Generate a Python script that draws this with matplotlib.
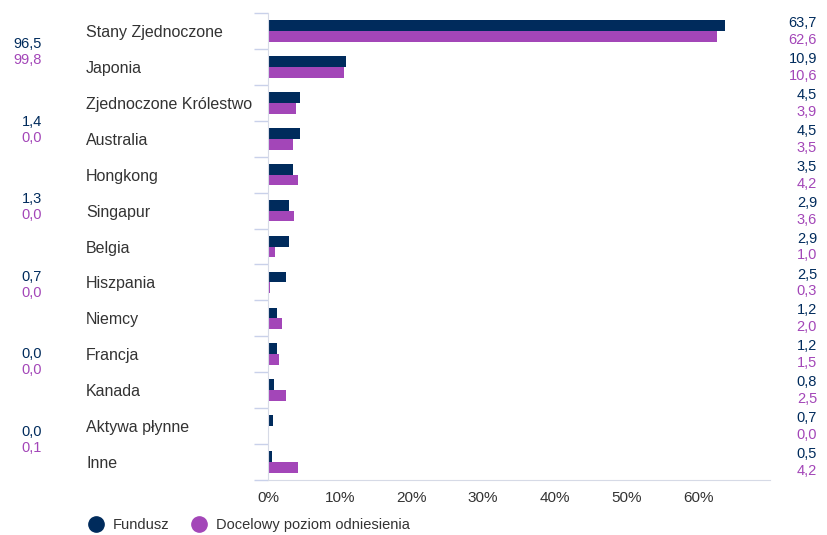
import matplotlib.pyplot as plt
import matplotlib.transforms as mtransforms
from matplotlib.lines import Line2D
import numpy as np

plt.rcParams['font.family'] = ['Liberation Sans', 'DejaVu Sans']

# data
countries = ["Stany Zjednoczone", "Japonia", "Zjednoczone Królestwo", "Australia",
             "Hongkong", "Singapur", "Belgia", "Hiszpania", "Niemcy", "Francja",
             "Kanada", "Aktywa płynne", "Inne"]
fundusz = [63.7, 10.9, 4.5, 4.5, 3.5, 2.9, 2.9, 2.5, 1.2, 1.2, 0.8, 0.7, 0.5]
docelowy = [62.6, 10.6, 3.9, 3.5, 4.2, 3.6, 1.0, 0.3, 2.0, 1.5, 2.5, 0.0, 4.2]
# extra numbers on the left edge
left_fund = [96.5, 1.4, 1.3, 0.7, 0.0, 0.0]
left_bench = [99.8, 0.0, 0.0, 0.0, 0.0, 0.1]
xticks = [0, 10, 20, 30, 40, 50, 60]

navy = "#002B5C"
purple = "#A346B8"
txt = "#333333"
axcol = "#D6DAE6"


def fmt(v):
    return f"{v:.1f}".replace(".", ",")


W, H = 827, 535
fig = plt.figure(figsize=(W / 100, H / 100), dpi=100)
ax = fig.add_axes([268 / W, 1 - 480 / H, (770 - 268) / W, (480 - 13) / H])

y = np.arange(len(countries))
bh = 0.3
ax.barh(y - bh / 2, fundusz, height=bh, color=navy)
ax.barh(y + bh / 2, docelowy, height=bh, color=purple)

ax.set_xlim(0, 70)
ax.set_ylim(len(countries) - 0.5, -0.5)
ax.set_xticks(xticks)
ax.set_xticklabels([f"{t}%" for t in xticks], fontsize=11, color=txt)
ax.tick_params(axis='x', length=0, pad=8)

ax.set_yticks(y)
ax.set_yticklabels(countries, fontsize=11.5, color=txt, ha='left')
ax.tick_params(axis='y', which='major', length=0, pad=131)
ax.set_yticks(np.arange(-0.5, len(countries), 1), minor=True)
ax.tick_params(axis='y', which='minor', length=10, color="#C9D1EA", width=1)

for s in ["top", "right"]:
    ax.spines[s].set_visible(False)
ax.spines["left"].set_color(axcol)
ax.spines["bottom"].set_color(axcol)

# values on the right
trans = mtransforms.blended_transform_factory(fig.transFigure, ax.transData)
for i in range(len(countries)):
    ax.text(817 / W, i - 0.22, fmt(fundusz[i]), color=navy, fontsize=10.5,
            ha='right', va='center', transform=trans)
    ax.text(817 / W, i + 0.25, fmt(docelowy[i]), color=purple, fontsize=10.5,
            ha='right', va='center', transform=trans)

# numbers on the left edge
for k in range(len(left_fund)):
    ypx = 44 + 77.6 * k
    fig.text(42 / W, 1 - ypx / H, fmt(left_fund[k]), color=navy,
             fontsize=10.5, ha='right', va='center')
    fig.text(42 / W, 1 - (ypx + 16) / H, fmt(left_bench[k]), color=purple,
             fontsize=10.5, ha='right', va='center')

handles = [Line2D([], [], marker='o', ls='', color=navy, markersize=11),
           Line2D([], [], marker='o', ls='', color=purple, markersize=11)]
fig.legend(handles, ["Fundusz", "Docelowy poziom odniesienia"], loc='center left',
           bbox_to_anchor=(68 / W, 1 - 525 / H), ncol=2, frameon=False, fontsize=10.5,
           handletextpad=0.2, columnspacing=1.0, labelcolor=txt)

fig.savefig("out.png", dpi=100)
